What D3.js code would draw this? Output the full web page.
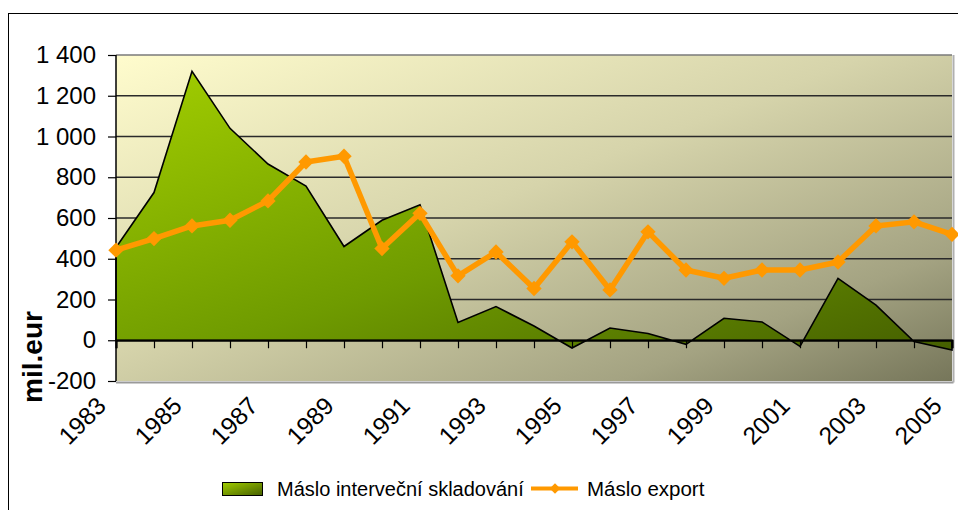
<!DOCTYPE html>
<html>
<head>
<meta charset="utf-8">
<script src="https://cdn.jsdelivr.net/npm/d3@7/dist/d3.min.js"></script>
<style>
  html, body { margin: 0; padding: 0; background: #fff; }
  svg { display: block; font-family: "Liberation Sans", Arial, sans-serif; }
</style>
</head>
<body>
<svg id="chart" width="958" height="510"></svg>
<script>
// Years on the category axis
const years = d3.range(1983, 2006);
// Labelled years (every second one)
const yearLabels = [1983, 1985, 1987, 1989, 1991, 1993, 1995, 1997, 1999, 2001, 2003, 2005];
// Butter in intervention storage, mil. EUR
const storage = [455, 725, 1320, 1040, 865, 757, 460, 589, 665, 87, 165, 70, -38,
                 60, 33, -20, 108, 90, -30, 304, 172, -6, -48];
// Butter export, mil. EUR
const exportVals = [442, 499, 561, 589, 684, 875, 903, 450, 623, 316, 433, 254, 483,
                    247, 532, 345, 304, 345, 345, 384, 561, 581, 520];
// Value axis ticks
const yTicks = [-200, 0, 200, 400, 600, 800, 1000, 1200, 1400];

const seriesNames = ["Máslo interveční skladování", "Máslo export"];

const svg = d3.select("#chart");
const L = 116, R = 952, T = 55, B = 381;

const x = d3.scalePoint().domain(years).range([L, R]);
const y = d3.scaleLinear().domain([-200, 1400]).range([B, T]);

const fmt = d3.formatLocale({ decimal: ",", thousands: "\u00a0", grouping: [3], currency: ["", ""], minus: "-" }).format(",d");

const defs = svg.append("defs");
const bg = defs.append("linearGradient").attr("id", "bgGrad")
  .attr("x1", 0).attr("y1", 0).attr("x2", 1).attr("y2", 1);
bg.append("stop").attr("offset", 0).attr("stop-color", "#fffccd");
bg.append("stop").attr("offset", 0.45).attr("stop-color", "#d6d4ab");
bg.append("stop").attr("offset", 0.8).attr("stop-color", "#a4a382");
bg.append("stop").attr("offset", 1).attr("stop-color", "#76765a");

const ag = defs.append("linearGradient").attr("id", "areaGrad")
  .attr("x1", 0).attr("y1", 0).attr("x2", 1).attr("y2", 1);
ag.append("stop").attr("offset", 0).attr("stop-color", "#a2ce00");
ag.append("stop").attr("offset", 0.55).attr("stop-color", "#6f9b00");
ag.append("stop").attr("offset", 1).attr("stop-color", "#455f00");

const lg = defs.append("linearGradient").attr("id", "legGrad")
  .attr("x1", 0).attr("y1", 0).attr("x2", 1).attr("y2", 1);
lg.append("stop").attr("offset", 0).attr("stop-color", "#a2ce00");
lg.append("stop").attr("offset", 1).attr("stop-color", "#455f00");

// Outer chart frame
svg.append("rect").attr("x", 8.5).attr("y", 13.5).attr("width", 1000).attr("height", 600)
  .attr("fill", "#fff").attr("stroke", "#000").attr("stroke-width", 1);

// Plot area background and its shadowed edges
svg.append("rect").attr("x", L).attr("y", T).attr("width", R - L).attr("height", B - T)
  .attr("fill", "url(#bgGrad)");
svg.append("line").attr("x1", L).attr("x2", R + 1.5).attr("y1", B + 1.5).attr("y2", B + 1.5)
  .attr("stroke", "#9a9a9a").attr("stroke-width", 2);
svg.append("line").attr("x1", R + 1.5).attr("x2", R + 1.5).attr("y1", T).attr("y2", B + 1.5)
  .attr("stroke", "#b0b0b0").attr("stroke-width", 2);

// Horizontal gridlines
svg.append("g").selectAll("line").data(yTicks.filter(v => v > 0)).join("line")
  .attr("x1", L).attr("x2", R).attr("y1", d => y(d)).attr("y2", d => y(d))
  .attr("stroke", d => d === 1400 ? "#7a7a7a" : "#2a2a2a").attr("stroke-width", 1.3);

// Storage area
const area = d3.area().x((d, i) => x(years[i])).y0(y(0)).y1(d => y(d));
svg.append("path").datum(storage).attr("d", area)
  .attr("fill", "url(#areaGrad)").attr("stroke", "#000").attr("stroke-width", 1.6)
  .attr("stroke-linejoin", "miter");

// Value axis
const yAxis = svg.append("g").attr("transform", `translate(${L},0)`)
  .call(d3.axisLeft(y).tickValues(yTicks).tickFormat(fmt).tickSize(8).tickPadding(12));
yAxis.select(".domain").remove();
yAxis.selectAll(".tick line").attr("stroke", "#000").attr("stroke-width", 1.2);
yAxis.selectAll(".tick text").attr("font-size", 24).attr("fill", "#000")
  .attr("font-family", "Liberation Sans, Arial, sans-serif");
svg.append("line").attr("x1", L).attr("x2", L).attr("y1", T).attr("y2", B)
  .attr("stroke", "#000").attr("stroke-width", 1.5);

// Category axis along zero
const xAxis = svg.append("g").attr("transform", `translate(0,${y(0)})`)
  .call(d3.axisBottom(x).tickSize(8).tickFormat(""));
xAxis.select(".domain").attr("stroke", "#000").attr("stroke-width", 2.2);
xAxis.selectAll(".tick line").attr("stroke", "#000").attr("stroke-width", 1.2);

// Category labels, rotated
svg.append("g").selectAll("text").data(yearLabels).join("text")
  .attr("transform", d => `translate(${x(d) - 21},${B + 14}) rotate(-45)`)
  .attr("text-anchor", "end").attr("dy", "0.72em")
  .attr("font-size", 24.5).attr("fill", "#000").text(d => d);

// Value axis title
svg.append("text").attr("transform", "translate(42,357) rotate(-90)")
  .attr("text-anchor", "middle").attr("font-size", 28).attr("font-weight", "bold")
  .text("mil.eur");

// Export line with diamond markers
const line = d3.line().x((d, i) => x(years[i])).y(d => y(d));
svg.append("path").datum(exportVals).attr("d", line)
  .attr("fill", "none").attr("stroke", "#ff9900").attr("stroke-width", 5.5)
  .attr("stroke-linejoin", "round");
const diamond = d3.symbol().type(d3.symbolDiamond2).size(150);
svg.append("g").selectAll("path").data(exportVals).join("path")
  .attr("transform", (d, i) => `translate(${x(years[i])},${y(d)})`)
  .attr("d", diamond).attr("fill", "#ff9900");

// Legend
const leg = svg.append("g");
leg.append("rect").attr("x", 222.5).attr("y", 482.5).attr("width", 40).attr("height", 13)
  .attr("fill", "url(#legGrad)").attr("stroke", "#000").attr("stroke-width", 1);
leg.append("text").attr("x", 277).attr("y", 496).attr("font-size", 20).text(seriesNames[0]);
leg.append("line").attr("x1", 531).attr("x2", 578).attr("y1", 488.5).attr("y2", 488.5)
  .attr("stroke", "#ff9900").attr("stroke-width", 4);
leg.append("path").attr("transform", "translate(555,488.5)")
  .attr("d", d3.symbol().type(d3.symbolDiamond2).size(70)).attr("fill", "#ff9900");
leg.append("text").attr("x", 587).attr("y", 496).attr("font-size", 20.5).text(seriesNames[1]);
</script>
</body>
</html>
